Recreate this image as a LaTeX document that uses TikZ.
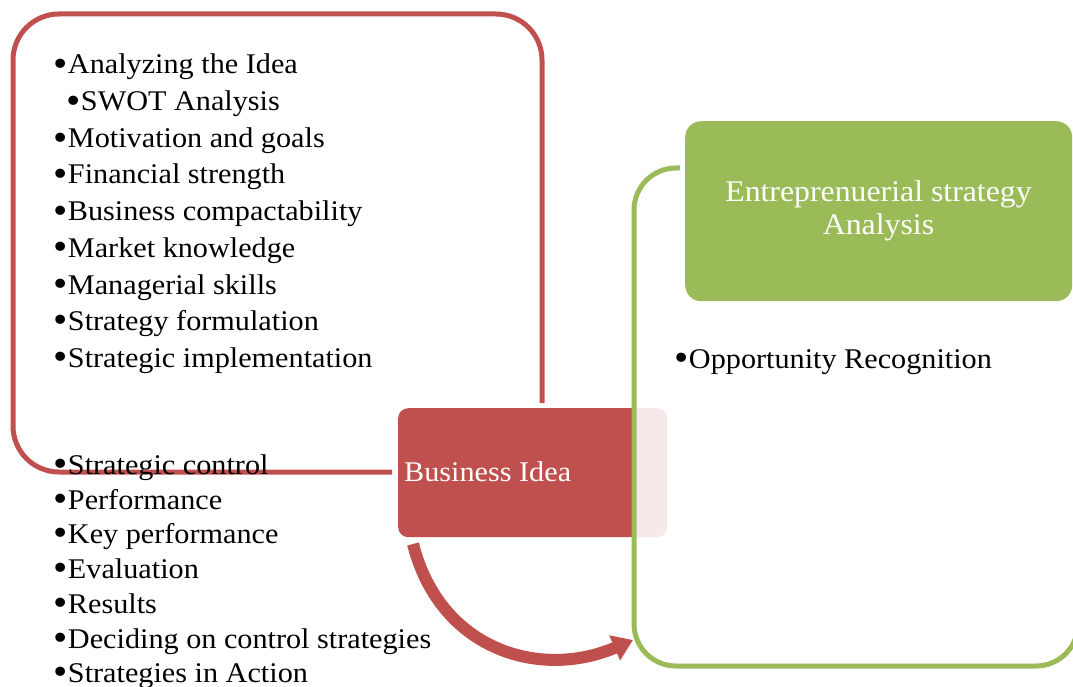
\documentclass[tikz,border=0pt]{standalone}
\usepackage{fontspec}
\setmainfont{Liberation Serif}[FakeStretch=1.06]
\usetikzlibrary{arrows.meta}
\definecolor{bred}{HTML}{C0504D}
\definecolor{bgreen}{HTML}{9BBB59}
\newcommand{\bulmark}{\raisebox{-0.1em}{\scalebox{1.35}{•}}\hspace{0.5pt}}
\tikzset{
  item/.style={anchor=base west,inner sep=0pt,font=\fontsize{28.5}{34}\selectfont,text=black},
  wtext/.style={inner sep=0pt,font=\fontsize{28.5}{33}\selectfont,text=white},
  outline/.style={line width=5pt},
}
\begin{document}
\begin{tikzpicture}[x=1pt,y=-1pt]
\useasboundingbox (0,0) rectangle (1073,687);
% red outline
\draw[outline,draw=bred,rounded corners=46pt] (392,472) -- (13,472) -- (13,14) -- (542,14) -- (542,403);
% business idea box
\node[fill=bred,rounded corners=10pt,minimum width=269pt,minimum height=129pt,inner sep=0pt,anchor=north west] (bi) at (398,408) {};
\node[wtext,anchor=base west] (bit) at (404,481) {Business Idea};
% arrow
\coordinate (astart) at (413,544);
\coordinate (aend) at (633,640);
\draw[bred,line width=12pt,-{Triangle[width=26pt,length=20pt]}] (astart) .. controls (440,650) and (540,680) .. (aend);
% green outline box
\fill[white,fill opacity=0.88,rounded corners=42pt] (634,168) rectangle (1090,666);
\draw[outline,draw=bgreen,rounded corners=42pt] (680,168) -- (634,168) -- (634,666) -- (1078,666) -- (1078,300);
% green filled box
\node[fill=bgreen,rounded corners=16pt,minimum width=387pt,minimum height=180pt,inner sep=0pt,anchor=north west] (eb) at (685,121) {};
\node[wtext,align=center,font=\fontsize{30}{33}\selectfont] (ebt) at (878.5,211) {Entreprenuerial strategy\\Analysis};
% upper list
\node[item] (u1) at (53,74) {\bulmark Analyzing the Idea};
\node[item] (u2) at (66,111) {\bulmark SWOT Analysis};
\node[item] (u3) at (53,148) {\bulmark Motivation and goals};
\node[item] (u4) at (53,184) {\bulmark Financial strength};
\node[item] (u5) at (53,221) {\bulmark Business compactability};
\node[item] (u6) at (53,257) {\bulmark Market knowledge};
\node[item] (u7) at (53,294) {\bulmark Managerial skills};
\node[item] (u8) at (53,330) {\bulmark Strategy formulation};
\node[item] (u9) at (53,367) {\bulmark Strategic implementation};
% lower list
\node[item] (l1) at (53,474) {\bulmark Strategic control};
\node[item] (l2) at (53,509) {\bulmark Performance};
\node[item] (l3) at (53,543) {\bulmark Key performance};
\node[item] (l4) at (53,578) {\bulmark Evaluation};
\node[item] (l5) at (53,613) {\bulmark Results};
\node[item] (l6) at (53,648) {\bulmark Deciding on control strategies};
\node[item] (l7) at (53,682) {\bulmark Strategies in Action};
% right item
\node[item] (r1) at (674,368) {\bulmark Opportunity Recognition};
\end{tikzpicture}
\end{document}
